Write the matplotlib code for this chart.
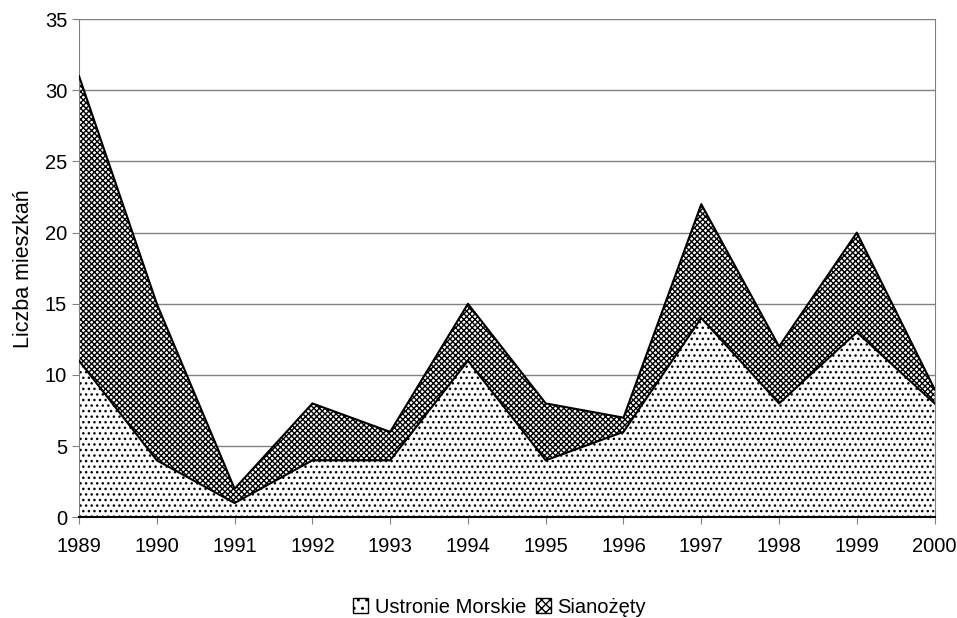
import matplotlib
matplotlib.use("Agg")
import matplotlib.pyplot as plt
from matplotlib.patches import Patch

plt.rcParams['font.family'] = ['Liberation Sans', 'DejaVu Sans']
plt.rcParams['hatch.linewidth'] = 1.0

# data
years = [1989, 1990, 1991, 1992, 1993, 1994, 1995, 1996, 1997, 1998, 1999, 2000]
ustronie = [11, 4, 1, 4, 4, 11, 4, 6, 14, 8, 13, 8]
sianozety = [20, 11, 1, 4, 2, 4, 4, 1, 8, 4, 7, 1]

total = [a + b for a, b in zip(ustronie, sianozety)]

fig = plt.figure(figsize=(9.57, 6.18), dpi=100)
ax = fig.add_axes([0.0826, 0.163, 0.894, 0.806])

ax.fill_between(years, 0, ustronie, facecolor='white', edgecolor='black',
                hatch='...', linewidth=0, zorder=2)
ax.fill_between(years, ustronie, total, facecolor='white', edgecolor='black',
                hatch='xxxxxx', linewidth=0, zorder=2)
ax.plot(years, ustronie, color='black', lw=1.5, zorder=3)
ax.plot(years, total, color='black', lw=1.5, zorder=3)

ax.set_xlim(1989, 2000)
ax.set_ylim(0, 35)
ax.set_xticks(years)
ax.set_yticks(range(0, 36, 5))
ax.yaxis.grid(True, color='#808080', lw=1)
ax.set_axisbelow(True)

ax.spines['top'].set_visible(False)
ax.spines['right'].set_color('#808080')
ax.spines['left'].set_color('#808080')
ax.spines['bottom'].set_color('black')
ax.spines['bottom'].set_linewidth(1.5)
ax.tick_params(axis='both', labelsize=14.5, color='#808080', length=5)
ax.tick_params(axis='x', pad=9)
ax.set_ylabel('Liczba mieszkań', fontsize=15.5, labelpad=8)

handles = [Patch(facecolor='white', edgecolor='black', hatch='..', lw=1,
                 label='Ustronie Morskie'),
           Patch(facecolor='white', edgecolor='black', hatch='xxxx', lw=1,
                 label='Sianożęty')]
fig.legend(handles=handles, loc='lower center', bbox_to_anchor=(0.522, -0.027),
           ncol=2, frameon=False, fontsize=14.5, handlelength=0.75,
           handleheight=0.75, handletextpad=0.3, columnspacing=0.5)

fig.savefig('out.png', dpi=100)
